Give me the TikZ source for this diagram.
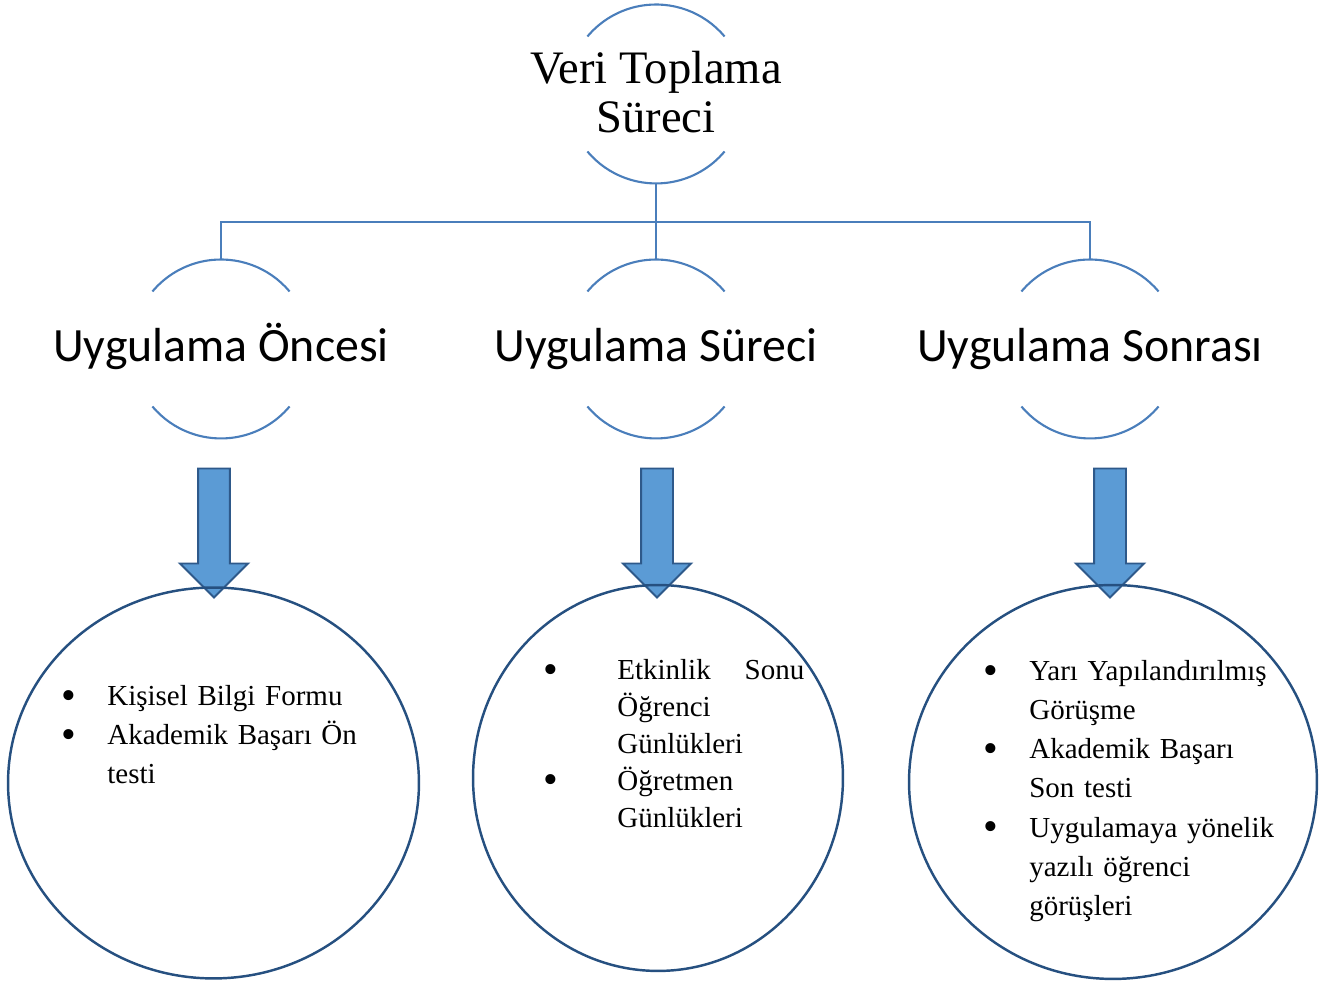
\documentclass[tikz,border=0pt]{standalone}
\usepackage{fontspec}
\usepackage{graphicx}
\setmainfont{Liberation Serif}
\newfontfamily\calibri{Carlito}
\usetikzlibrary{shapes.geometric,shapes.arrows,calc}

\definecolor{linkblue}{RGB}{74,126,187}
\definecolor{ringblue}{RGB}{38,80,128}
\definecolor{arrowfill}{RGB}{91,155,213}
\definecolor{arrowline}{RGB}{46,89,138}

\newcommand{\itm}[1][0.92cm]{\makebox[#1][l]{\raisebox{-0.13em}{\scalebox{1.45}{\textbullet}}}}
\newcommand{\ind}[1][0.92cm]{\hspace*{#1}}

\begin{document}
\begin{tikzpicture}[x=0.02cm, y=0.02cm]

% Styles
\tikzset{
    hub/.style={circle, minimum size=3.58cm, inner sep=0, outer sep=0},
    arcline/.style={draw=linkblue, line width=1.2pt},
    conn/.style={draw=linkblue, line width=1.2pt},
    toptxt/.style={align=center, font=\fontsize{26.5}{28}\selectfont},
    steptxt/.style={anchor=base, font=\calibri\fontsize{27.2}{30}\selectfont},
    blkarrow/.style={single arrow, draw=arrowline, fill=arrowfill, line width=1.1pt, rotate=-90,
        minimum height=2.58cm, minimum width=1.32cm, single arrow head extend=0.36cm,
        single arrow tip angle=90, inner xsep=0, inner ysep=0.3cm},
    ring/.style={ellipse, draw=ringblue, line width=1.4pt, inner sep=0},
    itemtxt/.style={anchor=north west, align=left, inner sep=0, text width=6cm,
        font=\fontsize{16.5}{22.3}\selectfont}
}

\useasboundingbox (0,0) rectangle (1330,989);

% Top node
\node[hub] (top) at (656,895) {};
\node[toptxt] (toptitle) at (656,897) {Veri Toplama\\Süreci};

% Stages
\node[hub] (pre) at (221,640) {};
\node[hub] (dur) at (656,640) {};
\node[hub] (post) at (1090,640) {};
\node[steptxt] (pretxt) at (221,627) {Uygulama Öncesi};
\node[steptxt] (durtxt) at (656,627) {Uygulama Süreci};
\node[steptxt] (posttxt) at (1090,627) {Uygulama Sonrası};

% Arcs round the hubs
\foreach \n in {top,pre,dur,post} {
    \draw[arcline] (\n.40) arc[start angle=40, end angle=140, radius=1.79cm];
    \draw[arcline] (\n.220) arc[start angle=220, end angle=320, radius=1.79cm];
}

% Connectors
\coordinate (bus) at (656,767);
\foreach \n in {pre,dur,post} {
    \draw[conn] (top.south) |- (bus -| \n.north) -- (\n.north);
}

% Block arrows
\node[blkarrow] (a1) at (214,464) {};
\node[blkarrow] (a2) at (657,464) {};
\node[blkarrow] (a3) at (1110,464) {};

% Rings
\node[ring, minimum width=8.22cm, minimum height=7.82cm] (c1) at (213.5,206) {};
\node[ring, minimum width=7.40cm, minimum height=7.72cm] (c2) at (658,211) {};
\node[ring, minimum width=8.16cm, minimum height=7.88cm] (c3) at (1113,207) {};

% Lists
\node[itemtxt] (t1) at (61,304) {\itm Kişisel Bilgi Formu\\
    \itm Akademik Başarı Ön\\
    \ind testi};
\node[itemtxt, text width=5.22cm, font=\fontsize{16.5}{21}\selectfont] (t2) at (543,330) {\itm[1.48cm]Etkinlik\hfill Sonu\\
    \ind[1.48cm]Öğrenci\\
    \ind[1.48cm]Günlükleri\\
    \itm[1.48cm]Öğretmen\\
    \ind[1.48cm]Günlükleri};
\node[itemtxt] (t3) at (983,329) {\itm Yarı Yapılandırılmış\\
    \ind Görüşme\\
    \itm Akademik Başarı\\
    \ind Son testi\\
    \itm Uygulamaya yönelik\\
    \ind yazılı öğrenci\\
    \ind görüşleri};

\end{tikzpicture}
\end{document}
